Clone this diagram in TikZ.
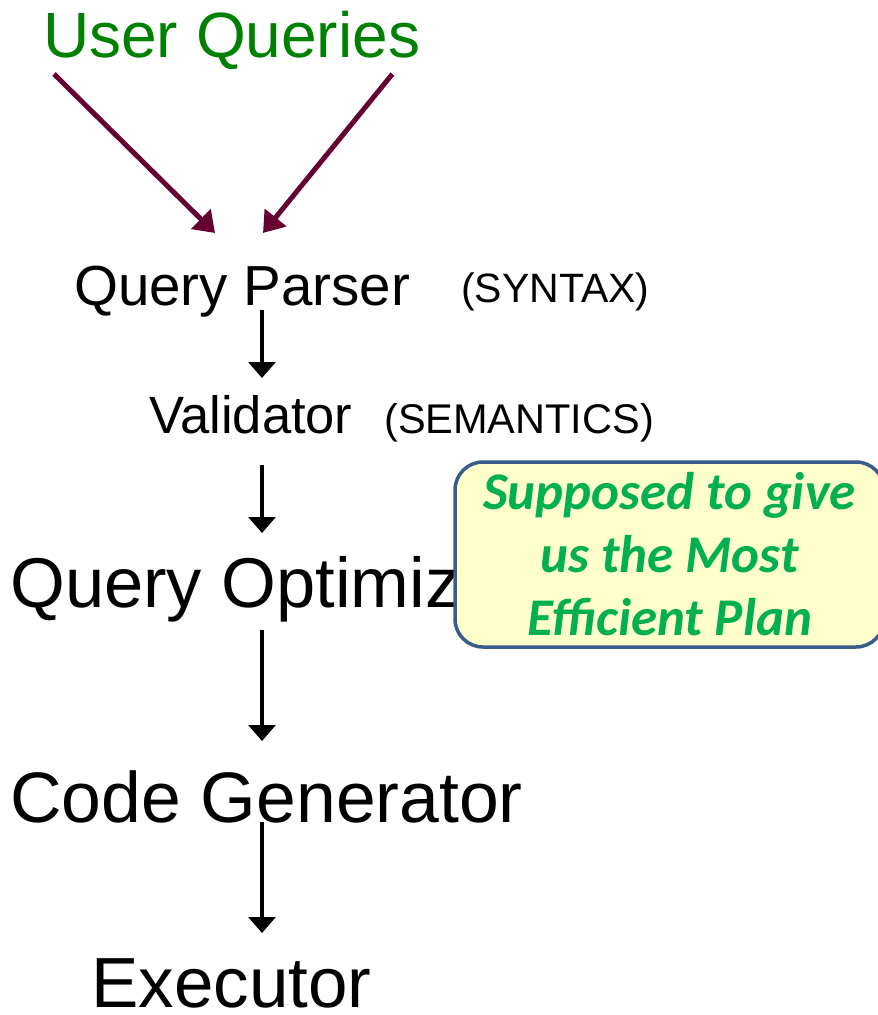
\documentclass[tikz,border=0pt]{standalone}
\usepackage{fontspec}
\setmainfont{Liberation Sans}
\newfontfamily\notefont{Carlito}
\usetikzlibrary{arrows.meta,calc}
\definecolor{usergreen}{RGB}{0,128,0}
\definecolor{arrowred}{RGB}{102,0,51}
\definecolor{notegreen}{RGB}{0,176,80}
\definecolor{noteline}{RGB}{56,93,138}
\definecolor{notefill}{RGB}{255,255,204}

\begin{document}
\begin{tikzpicture}[x=1pt,y=-1pt,
		stage/.style={inner sep=0pt, anchor=base west},
		flow/.style={line width=3.2pt, -{Triangle[width=27pt,length=16pt]}},
		inflow/.style={line width=5pt, arrowred, -{Triangle[width=27pt,length=20pt]}},
		notebox/.style={draw=noteline, line width=3.5pt, fill=notefill, rounded corners=28pt,
			minimum width=429pt, minimum height=185pt, inner sep=0pt, align=center,
			font=\notefont\bfseries\itshape\fontsize{53}{63}\selectfont, text=notegreen}]
			%%%%% START %%%%%
			
			\useasboundingbox (0,0) rectangle (878,1015);
			\coordinate (ax) at (262,0);
			
			\node[stage, text=usergreen, font=\fontsize{64}{70}\selectfont] (users) at (43,57) {User Queries};
			
			\node[stage, font=\fontsize{56.5}{60}\selectfont] (parser) at (74,305) {Query Parser};
			\node[stage, font=\fontsize{41}{44}\selectfont] (syntax) at (461,302) {(SYNTAX)};
			
			\node[stage, font=\fontsize{52.5}{56}\selectfont] (validator) at (149,433) {Validator};
			\node[stage, font=\fontsize{41.5}{46}\selectfont] (semantics) at (384,433) {(SEMANTICS)};
			
			\node[stage, font=\fontsize{70.5}{76}\selectfont] (optimizer) at (10,607) {Query Optimizer};
			\node[stage, font=\fontsize{71.5}{76}\selectfont] (codegen) at (10,822) {Code Generator};
			\node[stage, font=\fontsize{71}{76}\selectfont] (executor) at (91,1007) {Executor};
			
			\draw[inflow] ($(users.base west)+(11,17)$) -- ($(parser.base west)+(141,-72)$);
			\draw[inflow] ($(users.base east)+(-28,17)$) -- ($(parser.base -| ax)+(1,-72)$);
			
			\draw[flow] ($(parser.base -| ax)+(0,5)$) -- ($(validator.base -| ax)+(0,-55)$);
			\draw[flow] ($(validator.base -| ax)+(0,32)$) -- ($(optimizer.base -| ax)+(0,-74)$);
			\draw[flow] ($(optimizer.base -| ax)+(0,23)$) -- ($(codegen.base -| ax)+(0,-81)$);
			\draw[flow] ($(codegen.base -| ax)+(0,0)$) -- ($(executor.base -| ax)+(0,-74)$);
			
			\begin{scope}
				\clip (0,0) rectangle (878,1015);
				\node[notebox] (note) at (669.5,554.5) {Supposed to give\\us the Most\\Efficient Plan};
			\end{scope}
			
			%%%%% END %%%%%
		\end{tikzpicture}
\end{document}
